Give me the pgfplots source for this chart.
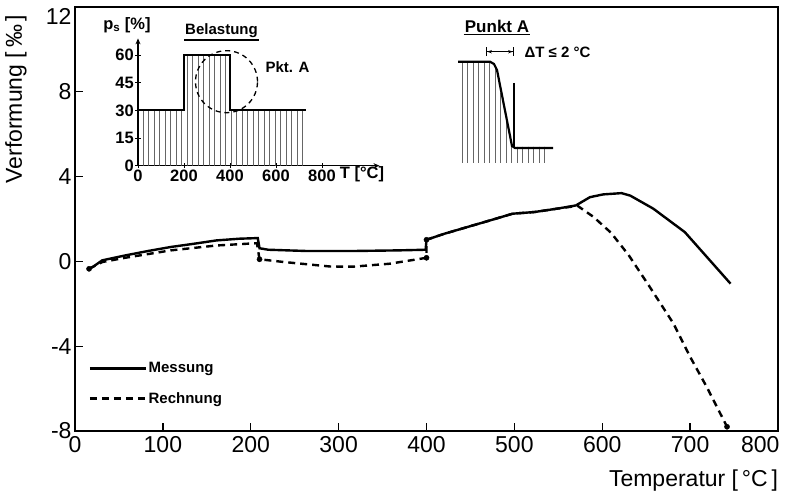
\documentclass[border=0pt]{standalone}
\usepackage{fontspec}
\setmainfont{Liberation Sans}
\usepackage{pgfplots}
\pgfplotsset{compat=1.18}
\usetikzlibrary{arrows.meta,patterns.meta}

\newcommand{\bigfont}{\fontsize{23bp}{27bp}\selectfont}
\newcommand{\smallbold}{\fontsize{15bp}{18bp}\selectfont\bfseries}
\newcommand{\tickbold}{\fontsize{16.5bp}{19bp}\selectfont\bfseries}

\begin{document}
\begin{tikzpicture}
% ---------------- main diagram: strain vs. temperature ----------------
\begin{axis}[
  at={(0bp,0bp)}, anchor=south west,
  scale only axis, width=703bp, height=424bp,
  xmin=0, xmax=800, ymin=-8, ymax=12,
  xtick={0,100,...,700}, ytick={-8,-4,0,4,8},
  extra x ticks={800}, extra y ticks={12},
  extra x tick style={xticklabel style={anchor=north east, xshift=5bp}},
  extra y tick style={yticklabel style={yshift=-9bp}},
  xtick pos=bottom, ytick pos=left,
  tick align=inside, major tick length=8bp,
  tick style={line width=1.3bp, black},
  axis line style={line width=1.6bp},
  /pgf/number format/assume math mode=true,
  ticklabel style={font=\bigfont},
  xticklabel style={yshift=-2bp},
  label style={font=\bigfont},
  xlabel={Temperatur [\,°C\,]},
  xlabel style={at={(axis description cs:1.005,-0.116)}, anchor=east},
  ylabel={Verformung [\,‰\,]},
  ylabel style={at={(axis description cs:-0.084,0.99)}, anchor=east},
  legend cell align=left,
  legend image code/.code={\draw[#1] (0bp,0bp) -- (56bp,0bp);},
  legend style={draw=none, fill=none, font=\smallbold,
    at={(axis cs:12,-4.6)}, anchor=north west,
    row sep=15bp, nodes={inner sep=1.5bp}},
]
% Messung
\addplot[line width=2.4bp, black] coordinates {
  (16,-0.35) (21,-0.24) (31,0.05) (57,0.28) (83,0.49) (109,0.68)
  (135,0.83) (161,0.99) (187,1.07) (208,1.1) (210,0.62) (220,0.55)
  (264,0.49) (316,0.49) (368,0.52) (399,0.55) (400,1.02) (420,1.3)
  (472,1.93) (498,2.25) (523,2.33) (549,2.49) (570,2.64) (586,3.03)
  (601,3.16) (622,3.22) (632,3.1) (658,2.49) (694,1.38) (746,-1.05)
};
\addlegendentry{Messung}
% Rechnung
\addplot[line width=2.4bp, black, dash pattern=on 7bp off 5bp] coordinates {
  (16,-0.35) (31,-0.03) (57,0.17) (109,0.52) (161,0.75) (207,0.86)
  (210,0.1) (238,-0.03) (290,-0.24) (316,-0.25) (358,-0.11) (397,0.15)
  (400,0.17) (400,1.02) (420,1.3) (472,1.93) (498,2.25) (523,2.33)
  (549,2.49) (572,2.62) (590,2.1) (610,1.35) (630,0.3) (654,-1.2)
  (681,-2.93) (700,-4.5) (719,-5.93) (742,-7.8)
};
\addlegendentry{Rechnung}
% measuring points
\addplot[only marks, mark=*, mark size=2.6bp, black, forget plot] coordinates {
  (16,-0.35) (210,0.1) (400,0.17) (400,1.02) (742,-7.8)
};
\end{axis}

% ---------------- inset: load history ----------------
\begin{axis}[
  at={(63bp,265.3bp)}, anchor=south west,
  scale only axis, width=241.5bp, height=127.3bp,
  xmin=0, xmax=1050, ymin=0, ymax=69,
  axis lines=left,
  axis line style={line width=1.4bp, -{Stealth[length=6bp,width=5bp]}},
  xtick={0,200,400,600,800}, ytick={0,15,30,45,60},
  tick align=center, major tick length=5bp,
  tick style={line width=1bp, black},
  /pgf/number format/assume math mode=true,
  ticklabel style={font=\tickbold, inner sep=1.5bp},
]
\addplot[draw=none, pattern={Lines[angle=90,distance=5.5bp,line width=0.7bp]},
  pattern color=black!60] coordinates {
  (0,0) (0,30) (200,30) (200,60) (400,60) (400,30) (740,30) (740,0)
};
\addplot[line width=2.2bp, black] coordinates {
  (0,0) (0,30) (200,30) (200,60) (400,60) (400,30) (730,30)
};
\end{axis}
\node[font=\tickbold] at (52bp,406bp) {p\textsubscript{s} [\%]};
\node[font=\tickbold] at (287bp,257bp) {T [°C]};
\node[font=\smallbold, inner sep=1bp] (bel) at (146.5bp,400bp) {Belastung};
\draw[line width=1.6bp] ([yshift=-1bp]bel.south west) -- ([yshift=-1bp]bel.south east);
\draw[line width=1.3bp, dash pattern=on 5bp off 4bp] (151.5bp,349.3bp) circle[radius=31bp];
\node[font=\smallbold] at (212.5bp,364bp) {Pkt. A};

% ---------------- inset: detail at point A ----------------
\begin{axis}[
  at={(375bp,261bp)}, anchor=south west,
  scale only axis, width=150bp, height=130bp,
  xmin=450, xmax=600, ymin=-170, ymax=-40,
  hide axis,
]
\addplot[draw=none, pattern={Lines[angle=90,distance=5.5bp,line width=0.7bp]},
  pattern color=black!60] coordinates {
  (460,-163) (460,-61.7) (490,-61.7) (495,-65) (512,-147) (550,-147) (550,-163)
};
\addplot[line width=2.2bp, black] coordinates {
  (458,-61.7) (490,-61.7) (494,-64) (497,-70) (512,-146) (515,-148) (553,-148)
};
\addplot[line width=1.3bp, black] coordinates {(514,-83) (514,-147)};
\draw[line width=1.4bp, {Bar[width=9bp]Stealth[length=4.5bp]}-{Stealth[length=4.5bp]Bar[width=9bp]}]
  (axis cs:486,-51.7) -- (axis cs:514,-51.7);
\end{axis}
\node[font=\smallbold, anchor=west] at (446bp,379bp) {ΔT ≤ 2 °C};
\node[font=\fontsize{17bp}{20bp}\selectfont\bfseries, inner sep=1bp] (pa) at (422bp,405bp) {Punkt A};
\draw[line width=1.6bp] ([yshift=-1bp]pa.south west) -- ([yshift=-1bp]pa.south east);

\pgfresetboundingbox
\path (-75bp,-72bp) rectangle (712bp,431bp);
\end{tikzpicture}
\end{document}
